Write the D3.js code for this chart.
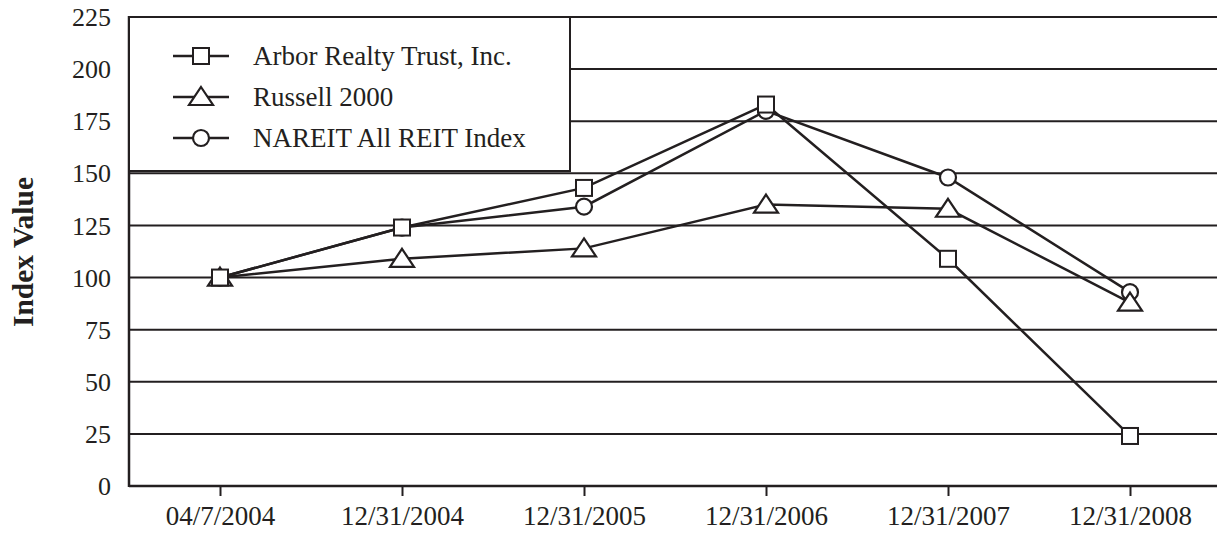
<!DOCTYPE html>
<html><head><meta charset="utf-8">
<script src="https://cdn.jsdelivr.net/npm/d3@7"></script>
<style>body{margin:0;background:#fff;} svg{display:block;}</style>
</head><body>
<svg id="c" width="1217" height="533"></svg>
<script>
const categories = ["04/7/2004","12/31/2004","12/31/2005","12/31/2006","12/31/2007","12/31/2008"];
const arbor   = [100, 124, 143, 183, 109, 24];
const russell = [100, 109, 114, 135, 133, 88];
const nareit  = [100, 124, 134, 180, 148, 93];
const yTicks  = [0,25,50,75,100,125,150,175,200,225];
const seriesNames = ["Arbor Realty Trust, Inc.","Russell 2000","NAREIT All REIT Index"];
const seriesShapes = ["square","triangle","circle"];

(function(){
const ink = "#231f20";
const font = "'Liberation Serif','Times New Roman',serif";
const svg = d3.select("#c");
const L = 129, R = 1221, T = 17, B = 486;

const x = d3.scalePoint().domain(categories).range([L, R]).padding(0.5);
const y = d3.scaleLinear().domain([0,225]).range([B, T]);

// gridlines
svg.append("g").selectAll("line").data(yTicks.filter(d=>d>0)).join("line")
  .attr("x1", L).attr("x2", 1217).attr("y1", d=>y(d)).attr("y2", d=>y(d))
  .attr("stroke", ink).attr("stroke-width", 2);

// y labels
svg.append("g").selectAll("text").data(yTicks).join("text")
  .attr("x", 111).attr("y", d=>y(d)).attr("dy","0.35em")
  .attr("text-anchor","end").attr("font-family",font).attr("font-size",26).attr("fill",ink)
  .text(d=>d);

// x axis
const xAxis = d3.axisBottom(x).tickSize(10).tickSizeOuter(0).tickPadding(0);
const gx = svg.append("g").attr("transform",`translate(0,${B})`).call(xAxis);
gx.select(".domain").remove();
gx.selectAll(".tick line").attr("stroke",ink).attr("stroke-width",2);
gx.selectAll(".tick text").attr("font-family",font).attr("font-size",27).attr("fill",ink)
  .attr("dy",null).attr("y",39);

// axes lines
svg.append("line").attr("x1",L).attr("x2",1217).attr("y1",B).attr("y2",B)
  .attr("stroke",ink).attr("stroke-width",2.5);
svg.append("line").attr("x1",L).attr("x2",L).attr("y1",T-1).attr("y2",B+1)
  .attr("stroke",ink).attr("stroke-width",2.5);

// y title
svg.append("text").attr("transform","translate(23,252) rotate(-90)")
  .attr("text-anchor","middle").attr("dy","0.35em").attr("font-family",font).attr("font-weight","bold")
  .attr("font-size",29.5).attr("fill",ink).text("Index Value");

// legend box
svg.append("rect").attr("x",L).attr("y",T).attr("width",570-L).attr("height",171-T)
  .attr("fill","#fff").attr("stroke",ink).attr("stroke-width",2);

function marker(g, shape, cx, cy){
  if(shape==="square"){
    g.append("rect").attr("x",cx-8).attr("y",cy-8).attr("width",16).attr("height",16)
      .attr("fill","#fff").attr("stroke",ink).attr("stroke-width",2);
  } else if(shape==="triangle"){
    g.append("path").attr("d",`M${cx},${cy-10}L${cx+12},${cy+8}L${cx-12},${cy+8}Z`)
      .attr("fill","#fff").attr("stroke",ink).attr("stroke-width",2.2);
  } else {
    g.append("circle").attr("cx",cx).attr("cy",cy).attr("r",8)
      .attr("fill","#fff").attr("stroke",ink).attr("stroke-width",2.2);
  }
}

const allSeries = [arbor, russell, nareit];
const line = d3.line().x((d,i)=>x(categories[i])).y(d=>y(d));
const plot = svg.append("g");
allSeries.forEach(s=>{
  plot.append("path").attr("d",line(s)).attr("fill","none").attr("stroke",ink).attr("stroke-width",2.5);
});
[2,1,0].forEach(k=>{
  const g = plot.append("g");
  allSeries[k].forEach((v,i)=>marker(g, seriesShapes[k], x(categories[i]), y(v)));
});

// legend items
const legY = [56, 97, 138];
seriesNames.forEach((name,i)=>{
  const g = svg.append("g");
  g.append("line").attr("x1",173).attr("x2",229).attr("y1",legY[i]).attr("y2",legY[i])
    .attr("stroke",ink).attr("stroke-width",2.5);
  marker(g, seriesShapes[i], 201, legY[i]);
  g.append("text").attr("x",253).attr("y",legY[i]).attr("dy","0.35em")
    .attr("font-family",font).attr("font-size",27).attr("fill",ink).text(name);
});
})();
</script>
</body></html>
